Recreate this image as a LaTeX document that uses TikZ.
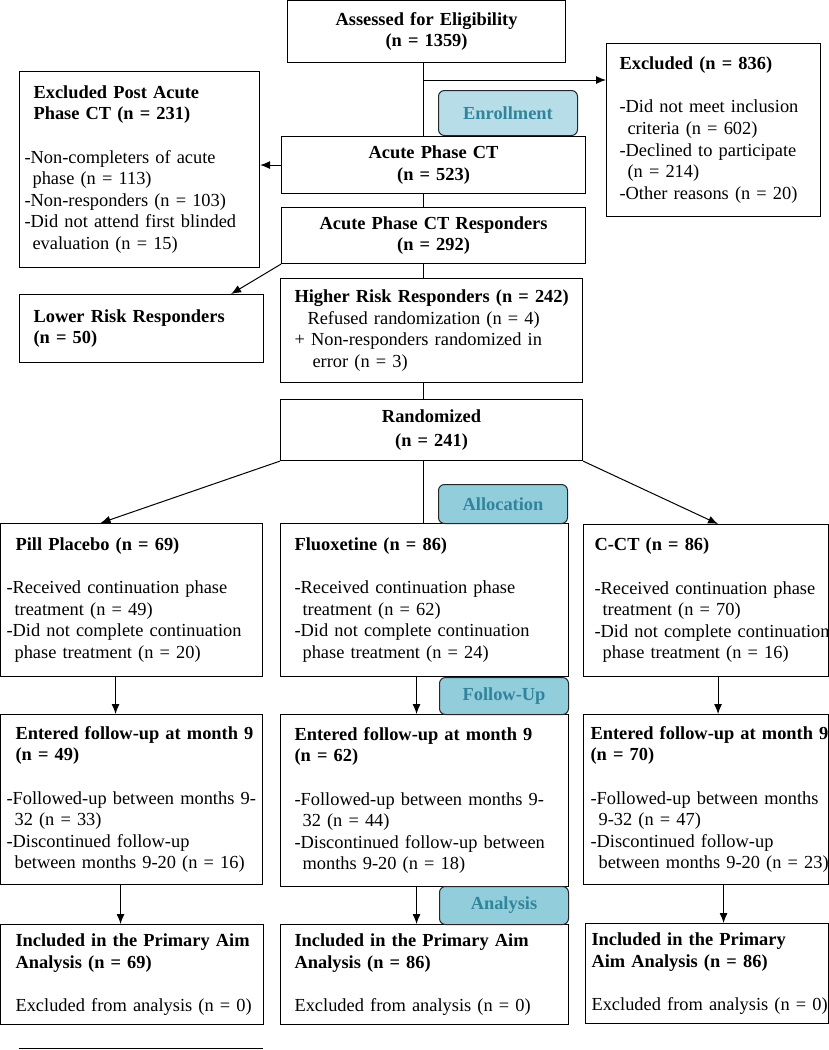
\documentclass[tikz,border=0pt]{standalone}
\usepackage{fontspec}
\setmainfont{Liberation Serif}
\usepackage{tikz}
\usetikzlibrary{arrows.meta}
\usetikzlibrary{positioning, calc}
\usepackage{xcolor}
\definecolor{enrollfill}{HTML}{B7DEE8}
\definecolor{stagefill}{HTML}{92CDDC}
\definecolor{stagetext}{HTML}{31849B}
\newcommand{\fsize}{\fontsize{18.4}{21.6}\selectfont}
\newcommand{\cont}{\hspace*{8pt}}
\tikzset{box/.style={draw, line width=1.1pt, anchor=north west, align=left, inner ysep=0pt},
cbox/.style={box, align=center, font=\fsize\bfseries, inner xsep=5pt},
stage/.style={draw=black!85, line width=1pt, rounded corners=6pt, anchor=north west, inner sep=0pt, font=\fsize\bfseries, text=stagetext, fill=stagefill},
line/.style={line width=1pt, -{Latex[length=10pt,width=8pt]}},
link/.style={line width=1pt}
}

\begin{document}
\begin{tikzpicture}[x=1pt,y=-1pt,every node/.style={font=\fsize}]
\useasboundingbox (0,0) rectangle (829,1050);
\clip (0,0) rectangle (829,1050);
% enrollment
\node[cbox,text width=268pt,minimum height=62pt] (assess) at (287,0) {Assessed for Eligibility\\(n = 1359)};
\node[box,inner xsep=13pt,text width=188pt,minimum height=173pt] (excl) at (606,43) {\textbf{Excluded (n = 836)}\\[21.6pt]
-Did not meet inclusion\\
\cont criteria (n = 602)\\
-Declined to participate\\
\cont (n = 214)\\
-Other reasons (n = 20)};
\node[cbox,text width=294pt,minimum height=57pt] (acute) at (281,136) {Acute Phase CT\\(n = 523)};
\node[box,inner xsep=5.5pt,text width=229.5pt,minimum height=196pt] (post) at (18.5,71) {\hspace*{9pt}\textbf{Excluded Post Acute}\\
\hspace*{9pt}\textbf{Phase CT (n = 231)}\\[21.6pt]
-Non-completers of acute\\
\cont phase (n = 113)\\
-Non-responders (n = 103)\\
-Did not attend first blinded\\
\cont evaluation (n = 15)};
\node[cbox,text width=294pt,minimum height=56pt] (resp) at (281,207) {Acute Phase CT Responders\\(n = 292)};
\node[box,inner xsep=14.5pt,text width=215.5pt,minimum height=68pt] (lowrisk) at (18.5,294) {\textbf{Lower Risk Responders}\\\textbf{(n = 50)}};
\node[box,inner xsep=14pt,text width=274pt,minimum height=104pt] (highrisk) at (280,278) {\mbox{\textbf{Higher Risk Responders (n = 242)}}\\
\hspace*{13pt}Refused randomization (n = 4)\\
+ Non-responders randomized in\\
\hspace*{18pt}error (n = 3)};
\node[cbox,text width=292pt,minimum height=61pt] (rand) at (280,399) {Randomized\\[3pt](n = 241)};
% allocation
\node[box,inner xsep=6pt,text width=250pt,minimum height=153pt] (pill) at (0,523) {\hspace*{9pt}\textbf{Pill Placebo (n = 69)}\\[21.6pt]
-Received continuation phase\\
\cont treatment (n = 49)\\
\mbox{-Did not complete continuation}\\
\cont phase treatment (n = 20)};
\node[box,inner xsep=14pt,text width=260pt,minimum height=153pt] (fluox) at (280,523) {\textbf{Fluoxetine (n = 86)}\\[21.6pt]
-Received continuation phase\\
\cont treatment (n = 62)\\
-Did not complete continuation\\
\cont phase treatment (n = 24)};
\node[box,inner xsep=11pt,text width=223pt,minimum height=152pt] (cct) at (583,524) {\textbf{C-CT (n = 86)}\\[21.6pt]
\mbox{-Received continuation phase}\\
\cont treatment (n = 70)\\
\mbox{-Did not complete continuation}\\
\cont phase treatment (n = 16)};
% follow-up
\node[box,inner xsep=6pt,text width=250pt,minimum height=170pt] (entp) at (0,714) {\hspace*{9pt}\mbox{\textbf{Entered follow-up at month 9}}\\
\hspace*{9pt}\textbf{(n = 49)}\\[21.6pt]
\mbox{-Followed-up between months 9-}\\
\cont 32 (n = 33)\\
-Discontinued follow-up\\
\cont between months 9-20 (n = 16)};
\node[box,inner xsep=14pt,text width=260pt,minimum height=172pt] (entf) at (280,714) {\textbf{Entered follow-up at month 9}\\
\textbf{(n = 62)}\\[21.6pt]
\mbox{-Followed-up between months 9-}\\
\cont 32 (n = 44)\\
\mbox{-Discontinued follow-up between}\\
\cont months 9-20 (n = 18)};
\node[box,inner xsep=7pt,text width=231pt,minimum height=170pt] (entc) at (583,714) {\mbox{\textbf{Entered follow-up at month 9}}\\
\textbf{(n = 70)}\\[21.6pt]
\mbox{-Followed-up between months}\\
\cont 9-32 (n = 47)\\
-Discontinued follow-up\\
\cont\mbox{between months 9-20 (n = 23)}};
% analysis
\node[box,inner xsep=15pt,text width=233pt,minimum height=100pt] (incp) at (0,924) {\mbox{\textbf{Included in the Primary Aim}}\\
\textbf{Analysis (n = 69)}\\[21.6pt]
\mbox{Excluded from analysis (n = 0)}};
\node[box,inner xsep=14pt,text width=260pt,minimum height=100pt] (incf) at (280,924) {\textbf{Included in the Primary Aim}\\
\textbf{Analysis (n = 86)}\\[21.6pt]
Excluded from analysis (n = 0)};
\node[box,inner xsep=6pt,text width=231pt,minimum height=100pt] (incc) at (585,923) {\textbf{Included in the Primary}\\
\textbf{Aim Analysis (n = 86)}\\[21.6pt]
\mbox{Excluded from analysis (n = 0)}};
% connectors
\coordinate (mid) at (423,0);
\coordinate (br) at (423,80);
\draw[link] (assess.south -| mid) -- (acute.north -| mid);
\draw[line] (br) -- (br -| excl.west);
\draw[line] (acute.west) -- (acute.west -| post.east);
\draw[link] (acute.south -| mid) -- (resp.north -| mid);
\draw[line] (resp.south west) -- ([xshift=-33pt]lowrisk.north east);
\draw[link] (resp.south -| mid) -- (highrisk.north -| mid);
\draw[link] (highrisk.south -| mid) -- (rand.north -| mid);
\draw[line] (rand.south west) -- ([xshift=-31pt]pill.north);
\draw[link] (rand.south -| mid) -- (fluox.north -| mid);
\draw[line] (rand.south east) -- ([xshift=12pt]cct.north);
\draw[line] ([xshift=-16pt]pill.south) -- ([xshift=-16pt]pill.south |- entp.north);
\draw[line] ([xshift=-8pt]fluox.south) -- ([xshift=-8pt]fluox.south |- entf.north);
\draw[line] ([xshift=12pt]cct.south) -- ([xshift=12pt]cct.south |- entc.north);
\draw[line] ([xshift=-11pt]entp.south) -- ([xshift=-11pt]entp.south |- incp.north);
\draw[line] ([xshift=-8pt]entf.south) -- ([xshift=-8pt]entf.south |- incf.north);
\draw[line] ([xshift=17.5pt]entc.south) -- ([xshift=17.5pt]entc.south |- incc.north);
% stage labels
\node[stage,fill=enrollfill,minimum width=139pt,minimum height=45pt] (enroll) at (438,90) {Enrollment};
\node[stage,minimum width=129pt,minimum height=39pt] (alloc) at (438,484) {Allocation};
\node[stage,minimum width=129pt,minimum height=37pt] (follow) at (439,677) {Follow-Up};
\node[stage,minimum width=129pt,minimum height=38pt] (analysis) at (439,886) {Analysis};
% footnote rule
\coordinate (fa) at (18.5,1048);
\coordinate (fb) at (263,1048);
\draw[link] (fa) -- (fb);
\end{tikzpicture}
\end{document}
